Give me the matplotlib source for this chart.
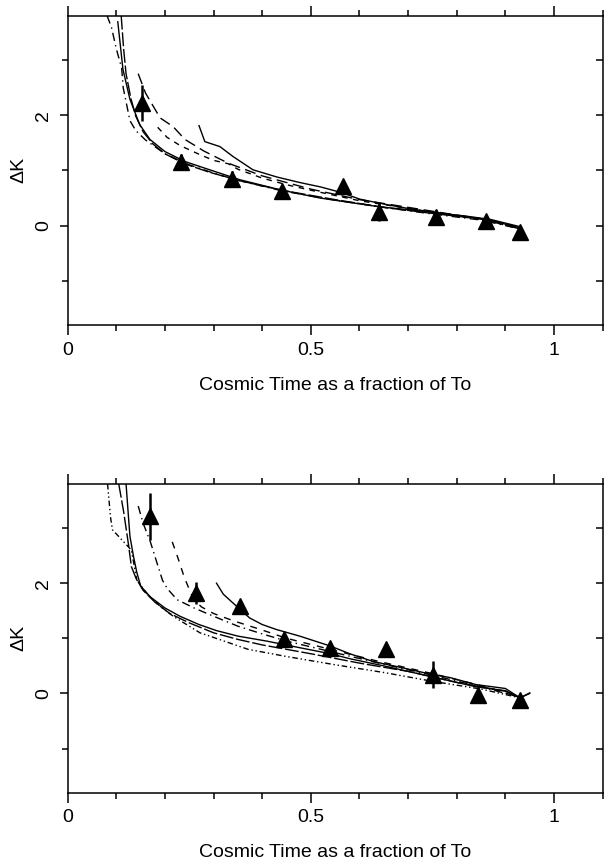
"""Delta K versus cosmic time: two panels of model curves with triangle data."""

import matplotlib

matplotlib.use("Agg")

import matplotlib.pyplot as plt
from matplotlib.ticker import FixedLocator, MultipleLocator

# ---- top panel data ----
top_obs_t = [0.152, 0.234, 0.337, 0.441, 0.566, 0.640, 0.758, 0.860, 0.929]
top_obs_dk = [2.22, 1.15, 0.85, 0.62, 0.71, 0.24, 0.16, 0.09, -0.12]
top_obs_err = [0.32, 0.15, 0.13, 0.08, 0.0, 0.16, 0.12, 0.08, 0.05]

top_solid_lo_t = [0.103, 0.1136, 0.128, 0.148, 0.169, 0.200, 0.241, 0.292, 0.354, 0.436, 0.518, 0.641, 0.765, 0.867, 0.929]
top_solid_lo_dk = [3.69, 2.83, 2.285, 1.83, 1.56, 1.34, 1.16, 1.01, 0.83, 0.65, 0.50, 0.34, 0.23, 0.10, -0.04]
top_solid_hi_t = [0.270, 0.282, 0.313, 0.340, 0.381, 0.430, 0.477, 0.520, 0.566, 0.600, 0.650, 0.700, 0.760, 0.820, 0.870, 0.930]
top_solid_hi_dk = [1.81, 1.52, 1.43, 1.25, 1.01, 0.88, 0.78, 0.70, 0.59, 0.48, 0.39, 0.31, 0.23, 0.17, 0.11, -0.02]
top_longdash_t = [0.145, 0.160, 0.190, 0.217, 0.241, 0.280, 0.330, 0.400, 0.500, 0.600, 0.700, 0.800, 0.870, 0.930]
top_longdash_dk = [2.75, 2.40, 1.95, 1.79, 1.56, 1.35, 1.13, 0.90, 0.66, 0.47, 0.33, 0.19, 0.10, -0.04]
top_dash_t = [0.185, 0.204, 0.231, 0.268, 0.300, 0.330, 0.350, 0.400, 0.450, 0.500, 0.600, 0.700, 0.800, 0.870, 0.930]
top_dash_dk = [1.78, 1.60, 1.45, 1.30, 1.18, 1.12, 1.02, 0.86, 0.74, 0.64, 0.45, 0.31, 0.17, 0.09, -0.05]
top_dashdot_t = [0.081, 0.090, 0.100, 0.111, 0.114, 0.128, 0.140, 0.160, 0.200, 0.250, 0.300, 0.350, 0.440, 0.550, 0.650, 0.750, 0.850, 0.930]
top_dashdot_dk = [3.80, 3.59, 3.20, 2.85, 2.50, 1.90, 1.72, 1.55, 1.30, 1.10, 0.95, 0.82, 0.63, 0.46, 0.33, 0.21, 0.10, -0.06]
top_ldash2_t = [0.110, 0.115, 0.120, 0.130, 0.140, 0.155, 0.175, 0.200, 0.240, 0.290, 0.350, 0.440, 0.550, 0.650, 0.750, 0.850, 0.930]
top_ldash2_dk = [3.80, 3.20, 2.75, 2.30, 1.98, 1.70, 1.48, 1.30, 1.12, 0.97, 0.82, 0.64, 0.47, 0.33, 0.22, 0.12, -0.06]

# ---- bottom panel data ----
bot_obs_t = [0.169, 0.263, 0.355, 0.445, 0.539, 0.655, 0.752, 0.843, 0.929]
bot_obs_dk = [3.21, 1.82, 1.58, 0.98, 0.83, 0.80, 0.34, -0.02, -0.11]
bot_obs_err = [0.42, 0.20, 0.08, 0.08, 0.06, 0.0, 0.25, 0.14, 0.05]

bot_solid_lo_t = [0.120, 0.125, 0.128, 0.135, 0.142, 0.150, 0.170, 0.200, 0.231, 0.270, 0.306, 0.350, 0.409, 0.477, 0.540, 0.580, 0.650, 0.750, 0.840, 0.900, 0.930, 0.950]
bot_solid_lo_dk = [3.80, 3.20, 2.85, 2.50, 2.20, 1.95, 1.75, 1.55, 1.40, 1.25, 1.14, 1.04, 0.95, 0.83, 0.72, 0.63, 0.50, 0.30, 0.12, 0.05, -0.08, 0.0]
bot_solid_hi_t = [0.306, 0.320, 0.340, 0.374, 0.400, 0.429, 0.477, 0.540, 0.580, 0.628, 0.696, 0.751, 0.785, 0.840, 0.900, 0.930, 0.950]
bot_solid_hi_dk = [2.00, 1.80, 1.64, 1.37, 1.25, 1.16, 1.04, 0.86, 0.72, 0.58, 0.45, 0.34, 0.29, 0.16, 0.09, -0.08, 0.01]
bot_dash_t = [0.215, 0.227, 0.240, 0.258, 0.275, 0.300, 0.340, 0.400, 0.450, 0.540, 0.640, 0.750, 0.850, 0.930]
bot_dash_dk = [2.75, 2.45, 2.10, 1.72, 1.57, 1.45, 1.32, 1.15, 1.00, 0.80, 0.58, 0.36, 0.14, -0.07]
bot_dashdot_t = [0.145, 0.155, 0.170, 0.186, 0.195, 0.205, 0.225, 0.260, 0.300, 0.350, 0.400, 0.450, 0.540, 0.640, 0.750, 0.850, 0.930]
bot_dashdot_dk = [3.40, 3.09, 2.75, 2.30, 2.05, 1.90, 1.70, 1.55, 1.40, 1.22, 1.08, 0.95, 0.76, 0.55, 0.33, 0.12, -0.07]
bot_ldash_t = [0.105, 0.115, 0.125, 0.131, 0.140, 0.155, 0.180, 0.210, 0.250, 0.300, 0.350, 0.400, 0.500, 0.600, 0.700, 0.800, 0.900, 0.930]
bot_ldash_dk = [3.80, 3.30, 2.70, 2.30, 2.10, 1.87, 1.65, 1.45, 1.28, 1.10, 0.98, 0.88, 0.72, 0.55, 0.40, 0.20, 0.04, -0.08]
bot_dashdot2_t = [0.082, 0.088, 0.092, 0.131, 0.142, 0.162, 0.190, 0.217, 0.272, 0.371, 0.450, 0.550, 0.650, 0.750, 0.850, 0.930]
bot_dashdot2_dk = [3.80, 3.20, 2.97, 2.60, 2.06, 1.82, 1.58, 1.40, 1.10, 0.80, 0.67, 0.52, 0.38, 0.22, 0.08, -0.08]

XLABEL = "Cosmic Time as a fraction of To"
YLABEL = "\u0394K"


def style_axes(ax):
    ax.set_xlim(0, 1.1)
    ax.set_ylim(-1.8, 3.8)
    ax.xaxis.set_major_locator(FixedLocator([0, 0.5, 1.0]))
    ax.xaxis.set_minor_locator(MultipleLocator(0.1))
    ax.set_xticklabels(["0", "0.5", "1"])
    ax.yaxis.set_major_locator(FixedLocator([0, 2]))
    ax.yaxis.set_minor_locator(FixedLocator([-1, 1, 3]))
    ax.set_yticklabels(["0", "2"], rotation=90, va="center")
    ax.tick_params(axis="x", which="both", direction="out", top=True, width=1.1, labelsize=14, pad=5)
    ax.tick_params(axis="x", which="major", length=7)
    ax.tick_params(axis="x", which="minor", length=4)
    ax.tick_params(axis="y", which="both", direction="out", right=False, width=1.1, labelsize=14, pad=5)
    ax.tick_params(axis="y", which="major", length=6)
    ax.tick_params(axis="y", which="minor", length=4)
    for side in ax.spines.values():
        side.set_linewidth(1.1)
    ax.set_xlabel(XLABEL, fontsize=14, labelpad=13)
    ax.set_ylabel(YLABEL, fontsize=14, labelpad=6)
    rax = ax.twinx()
    rax.set_ylim(ax.get_ylim())
    rax.yaxis.set_major_locator(FixedLocator([-1, 0, 1, 2, 3]))
    rax.tick_params(axis="y", direction="in", length=5, width=1.1, labelright=False)
    for side in rax.spines.values():
        side.set_visible(False)


def draw_panel(ax, curves, obs_t, obs_dk, obs_err):
    for t, dk, ls in curves:
        ax.plot(t, dk, color="black", linestyle=ls, linewidth=1.0)
    ax.errorbar(obs_t, obs_dk, yerr=obs_err, fmt="^", color="black", markersize=11,
                elinewidth=1.8, capsize=0, zorder=5)
    style_axes(ax)


plt.rcParams["font.family"] = ["Liberation Sans", "DejaVu Sans"]
fig = plt.figure(figsize=(6.06, 8.63), dpi=100)
ax_top = fig.add_axes([0.1117, 0.6234, 0.8828, 0.3584])
ax_bot = fig.add_axes([0.1117, 0.0815, 0.8828, 0.3577])

top_curves = [
    (top_solid_lo_t, top_solid_lo_dk, "-"),
    (top_solid_hi_t, top_solid_hi_dk, "-"),
    (top_longdash_t, top_longdash_dk, (0, (8, 4))),
    (top_dash_t, top_dash_dk, (0, (4, 4))),
    (top_dashdot_t, top_dashdot_dk, (0, (6, 3, 1, 3))),
    (top_ldash2_t, top_ldash2_dk, (0, (10, 2))),
]
bot_curves = [
    (bot_solid_lo_t, bot_solid_lo_dk, "-"),
    (bot_solid_hi_t, bot_solid_hi_dk, "-"),
    (bot_dash_t, bot_dash_dk, (0, (5, 5))),
    (bot_dashdot_t, bot_dashdot_dk, (0, (6, 3, 1, 3))),
    (bot_ldash_t, bot_ldash_dk, (0, (10, 2))),
    (bot_dashdot2_t, bot_dashdot2_dk, (0, (4, 2, 1, 2, 1, 2))),
]

draw_panel(ax_top, top_curves, top_obs_t, top_obs_dk, top_obs_err)
draw_panel(ax_bot, bot_curves, bot_obs_t, bot_obs_dk, bot_obs_err)

fig.savefig("out.png", dpi=100)
